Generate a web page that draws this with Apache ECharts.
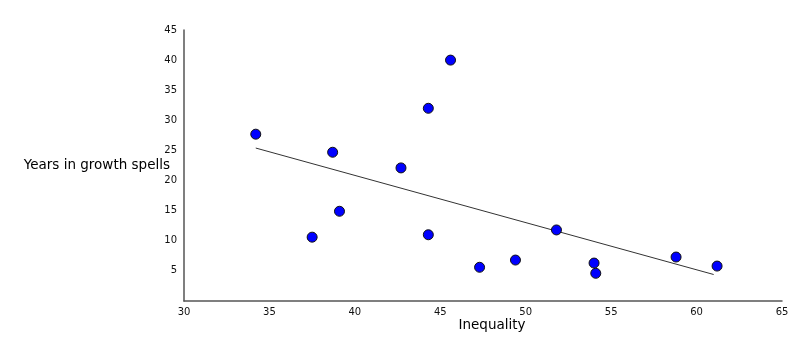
<!DOCTYPE html>
<html>
<head>
<meta charset="utf-8">
<script src="https://cdn.jsdelivr.net/npm/echarts@6/dist/echarts.min.js"></script>
<style>html,body{margin:0;padding:0;background:#fff}#c{width:800px;height:362px}</style>
</head>
<body>
<div id="c"></div>
<script>
const inequality = [34.2, 37.5, 38.7, 39.1, 42.7, 44.3, 44.3, 45.6, 47.3, 49.4, 51.8, 54.0, 54.1, 58.8, 61.2];
const yearsInGrowth = [27.7, 10.6, 24.7, 14.9, 22.1, 32.0, 11.0, 40.0, 5.6, 6.8, 11.8, 6.3, 4.6, 7.3, 5.8];
const trendX = [34.2, 61.0];
const trendY = [25.4, 4.4];
const xTicks = [30, 35, 40, 45, 50, 55, 60, 65];
const yTicks = [5, 10, 15, 20, 25, 30, 35, 40, 45];

const chart = echarts.init(document.getElementById('c'), null, {renderer: 'canvas'});
const font = 'DejaVu Sans';
chart.setOption({
  animation: false,
  backgroundColor: '#fff',
  grid: {left: 184, right: 18, top: 30, bottom: 61},
  xAxis: {
    type: 'value', min: 30, max: 65, interval: 5,
    name: 'Inequality', nameLocation: 'middle', nameGap: 17,
    nameMoveOverlap: false,
    nameTextStyle: {fontFamily: font, fontSize: 13.5, color: '#000', padding: [0, 0, 0, 18]},
    axisLine: {show: true, lineStyle: {color: '#555', width: 1.5}},
    axisTick: {show: false},
    splitLine: {show: false},
    axisLabel: {fontFamily: font, fontSize: 10, color: '#111', margin: 6,
      formatter: v => xTicks.includes(v) ? String(v) : ''}
  },
  yAxis: {
    type: 'value', min: 0, max: 45, interval: 5,
    name: 'Years in growth spells', nameLocation: 'middle', nameRotate: 0, nameGap: 14,
    nameMoveOverlap: false,
    nameTextStyle: {fontFamily: font, fontSize: 13.5, color: '#000'},
    axisLine: {show: true, lineStyle: {color: '#555', width: 1.5}},
    axisTick: {show: false},
    splitLine: {show: false},
    axisLabel: {fontFamily: font, fontSize: 10, color: '#111', margin: 7,
      formatter: v => yTicks.includes(v) ? String(v) : ''}
  },
  series: [
    {
      type: 'line',
      data: trendX.map((x, i) => [x, trendY[i]]),
      symbol: 'none',
      lineStyle: {color: '#333', width: 1},
      z: 1
    },
    {
      type: 'scatter',
      data: inequality.map((x, i) => [x, yearsInGrowth[i]]),
      symbol: 'circle',
      symbolSize: 10,
      itemStyle: {color: '#0000ff', borderColor: '#111', borderWidth: 1, opacity: 1},
      z: 2
    }
  ]
});
</script>
</body>
</html>
